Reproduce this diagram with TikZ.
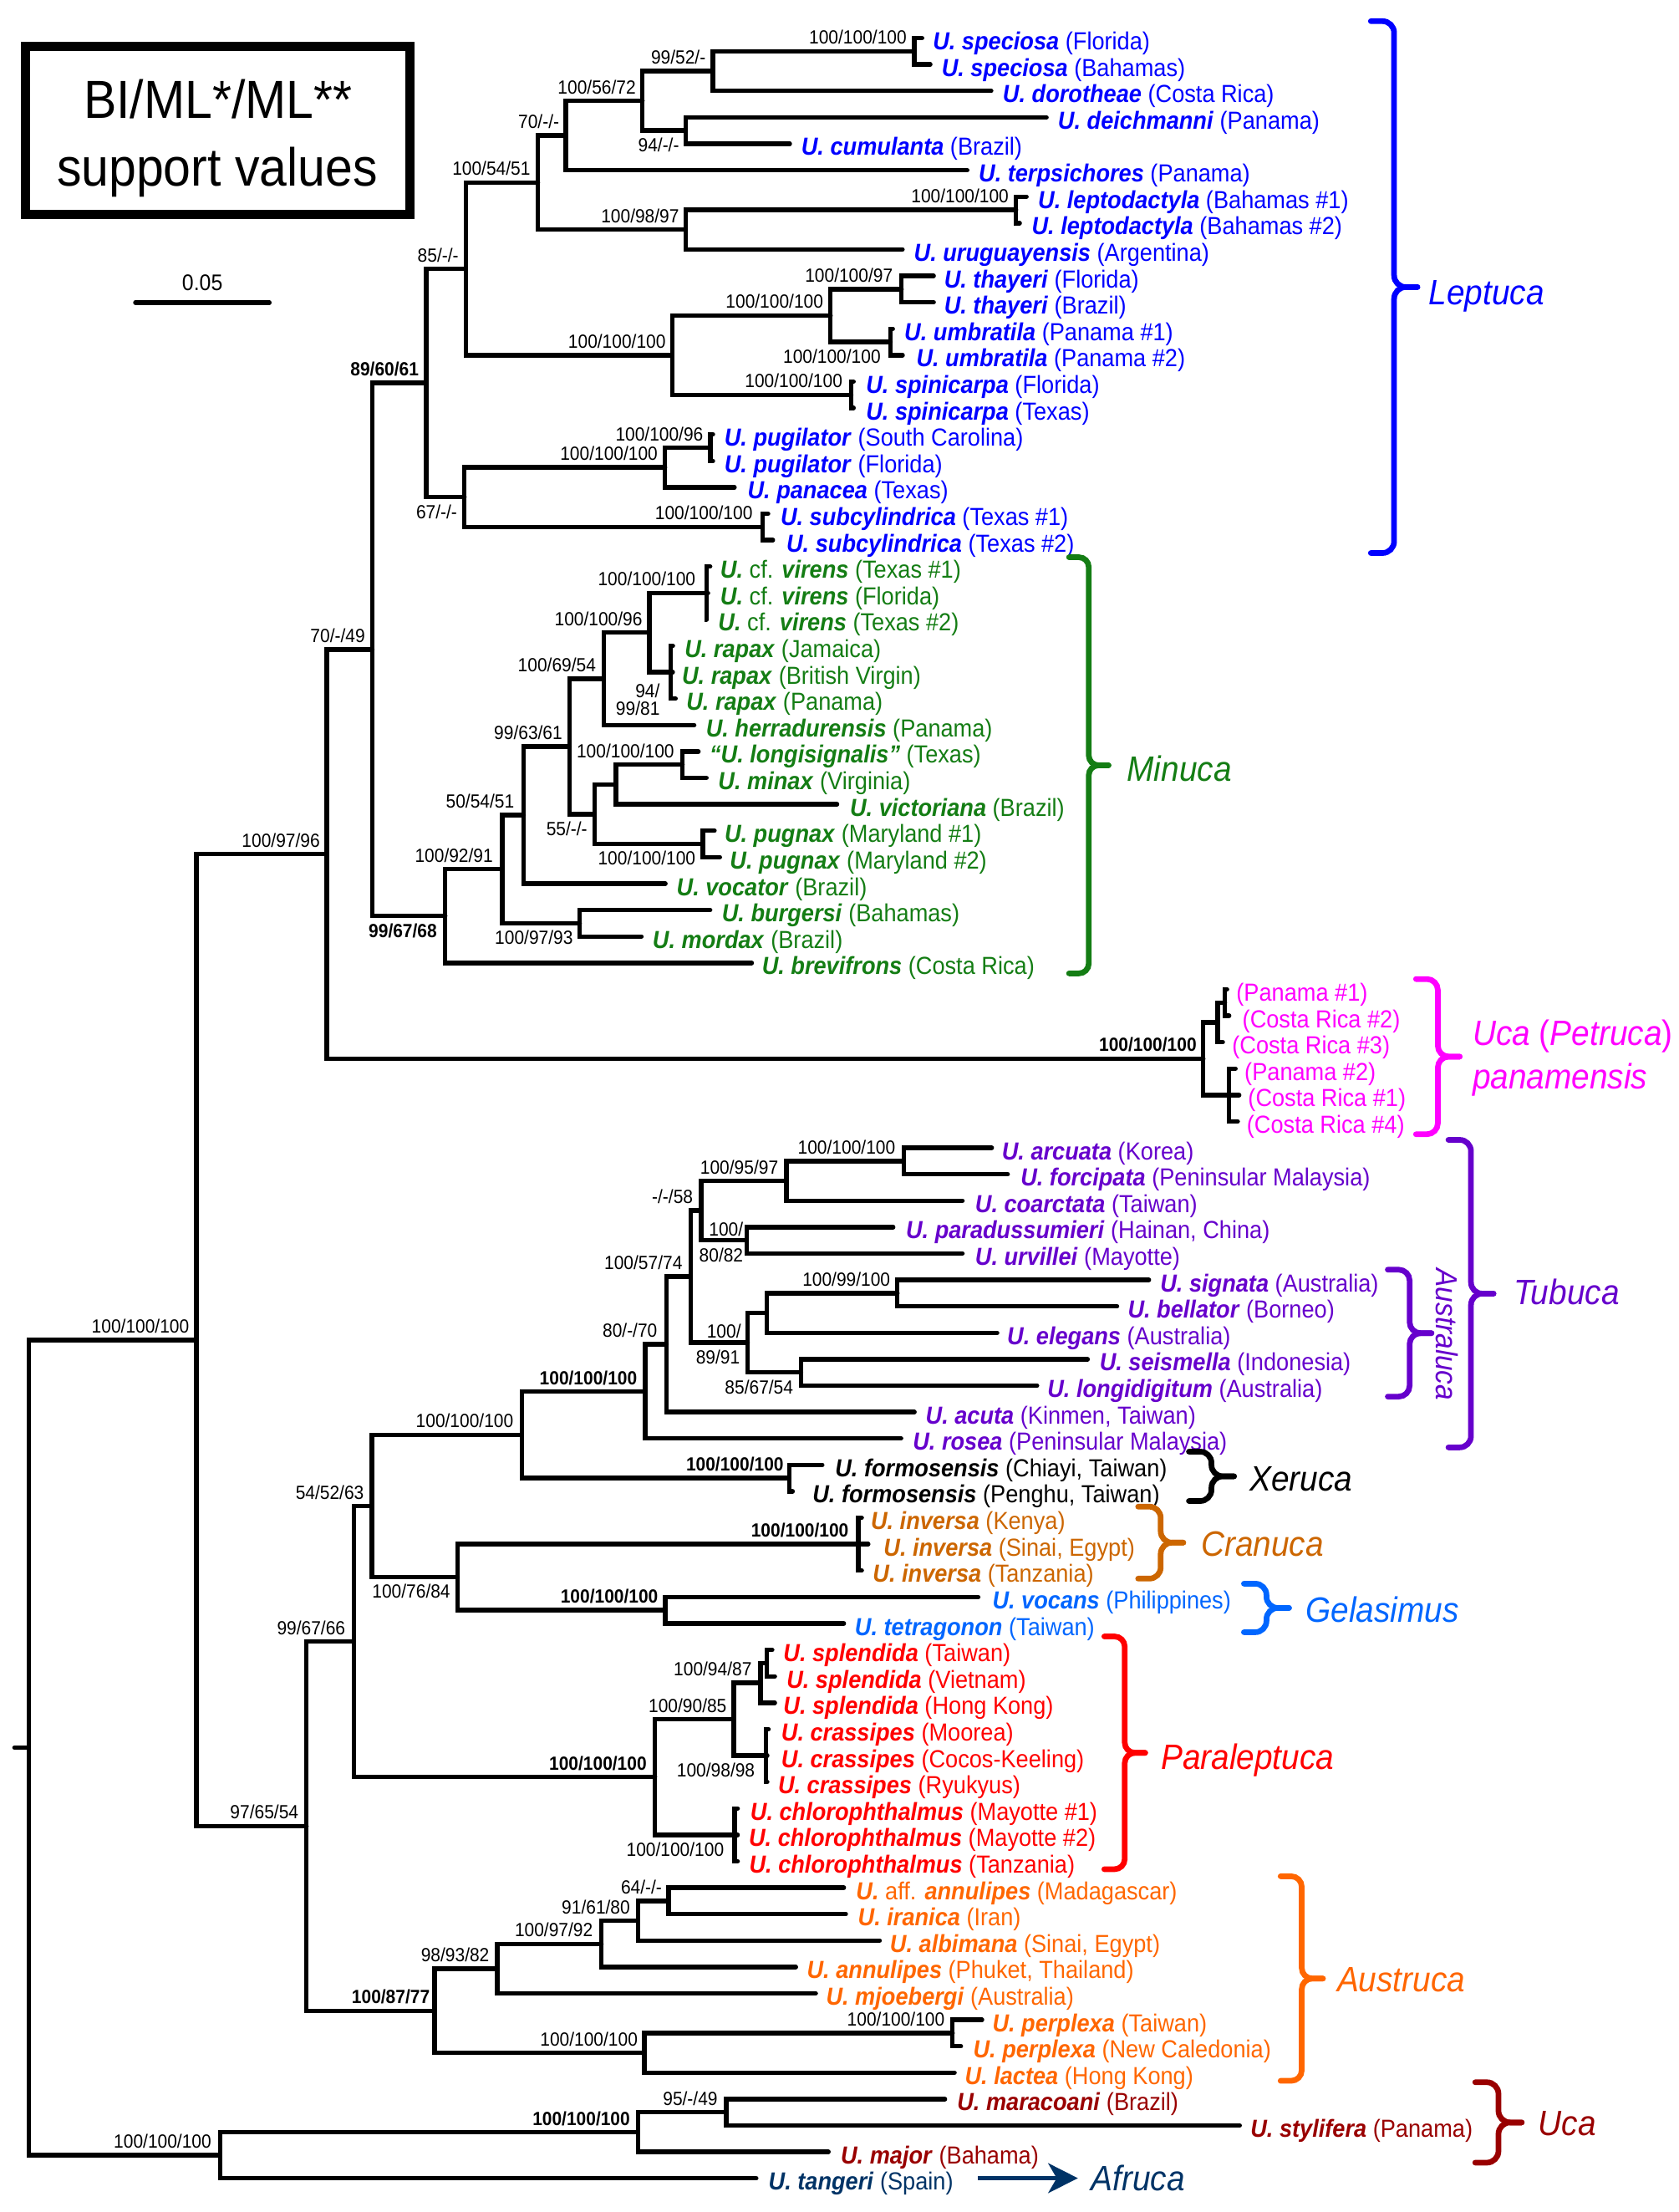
\documentclass[tikz,border=0pt]{standalone}
\usepackage{fontspec}
\setmainfont{Liberation Sans}[FakeStretch=0.92]
\usetikzlibrary{calc,arrows.meta}
\definecolor{lepc}{RGB}{0,0,255}
\definecolor{minc}{RGB}{20,125,20}
\definecolor{petc}{RGB}{255,0,255}
\definecolor{tubc}{RGB}{102,0,204}
\definecolor{crac}{RGB}{204,102,0}
\definecolor{gelc}{RGB}{0,102,255}
\definecolor{parc}{RGB}{255,0,0}
\definecolor{ausc}{RGB}{255,102,0}
\definecolor{ucac}{RGB}{153,0,0}
\definecolor{afrc}{RGB}{0,51,102}
\newcommand\spn[1]{\textbf{\textit{#1}}}
\newcommand\mytip[5]{\coordinate (t#1) at (#2,{ry(#1)});
  \node[tx,text=#4] (L#1) at (#3,{ry(#1)+8.3}) {#5};}
\newcommand\inode[4]{\path let \p1=($(#3)!0.5!(#4)$) in (#2pt,\y1) coordinate (#1);}
\newcommand\ed[2]{\foreach \kid in {#2}{\draw[br] (#1) |- (\kid);}}
\newcommand\supA[3]{\node[sup] (s#1) at ([xshift=-#2pt,yshift=5pt]#1) {#3};}
\newcommand\supB[3]{\node[sup] (s#1) at ([xshift=-#2pt,yshift=-15pt]#1) {#3};}
\newcommand\cbr[6]{%
  \pgfmathsetmacro\bm{(#4+#5)/2}\pgfmathsetmacro\bv{#3+#6/2}%
  \pgfmathsetmacro\bt{#3+#6}\pgfmathsetmacro\brr{#6/4}%
  \draw[brc,draw=#2,rounded corners=\brr pt] (#3,#4) -- (\bv,#4) -- (\bv,\bm) -- (\bt,\bm);
  \draw[brc,draw=#2,rounded corners=\brr pt] (#3,#5) -- (\bv,#5) -- (\bv,\bm) -- (\bt,\bm);
  \coordinate (#1) at (\bt,\bm);}
\begin{document}
\begin{tikzpicture}[x=1pt,y=-1pt,
  declare function={ry(\i)=27+(\i-1)*18.73;},
  br/.style={line width=3.2pt,line cap=round,black},
  brc/.style={line width=4pt,line cap=round},
  tx/.style={anchor=base west,inner sep=0pt,font=\fontsize{17.5}{18}\selectfont},
  sup/.style={anchor=base east,inner sep=0pt,font=\fontsize{13.5}{14}\selectfont},
  cl/.style={anchor=base west,inner sep=0pt,font=\fontsize{25}{26}\selectfont\itshape}]
\useasboundingbox (0,0) rectangle (1190,1568);
% legend and scale
\node[draw,line width=6.5pt,minimum width=272.7pt,minimum height=118.9pt,inner sep=0pt] (legend) at (154.4,92.3) {};
\node[anchor=base,inner sep=0pt,font=\fontsize{38}{40}\selectfont] (leg1) at (154.5,84) {BI/ML*/ML**};
\node[anchor=base,inner sep=0pt,font=\fontsize{38}{40}\selectfont] (leg2) at (154,132) {support values};
\coordinate (sb1) at (96,214.5); \coordinate (sb2) at (191,214.5);
\draw[line width=3.2pt,line cap=round] (sb1) -- (sb2);
\node[anchor=base,inner sep=0pt,font=\fontsize{16}{16}\selectfont] (sbl) at (143.5,206) {0.05};
% tips
\mytip{1}{653.8}{661.3}{lepc}{\spn{U. speciosa} (Florida)}
\mytip{2}{659.6}{667.5}{lepc}{\spn{U. speciosa} (Bahamas)}
\mytip{3}{702.8}{710.9}{lepc}{\spn{U. dorotheae} (Costa Rica)}
\mytip{4}{742}{750}{lepc}{\spn{U. deichmanni} (Panama)}
\mytip{5}{560}{568}{lepc}{\spn{U. cumulanta} (Brazil)}
\mytip{6}{685.8}{693.8}{lepc}{\spn{U. terpsichores} (Panama)}
\mytip{7}{727.8}{735.9}{lepc}{\spn{U. leptodactyla} (Bahamas \#1)}
\mytip{8}{723}{731.4}{lepc}{\spn{U. leptodactyla} (Bahamas \#2)}
\mytip{9}{639.9}{647.9}{lepc}{\spn{U. uruguayensis} (Argentina)}
\mytip{10}{662}{669.3}{lepc}{\spn{U. thayeri} (Florida)}
\mytip{11}{662}{669.3}{lepc}{\spn{U. thayeri} (Brazil)}
\mytip{12}{633}{641.1}{lepc}{\spn{U. umbratila} (Panama \#1)}
\mytip{13}{640}{649.6}{lepc}{\spn{U. umbratila} (Panama \#2)}
\mytip{14}{605.2}{613.9}{lepc}{\spn{U. spinicarpa} (Florida)}
\mytip{15}{605.2}{613.9}{lepc}{\spn{U. spinicarpa} (Texas)}
\mytip{16}{505.5}{513.5}{lepc}{\spn{U. pugilator} (South Carolina)}
\mytip{17}{505.5}{513.5}{lepc}{\spn{U. pugilator} (Florida)}
\mytip{18}{520.8}{529.9}{lepc}{\spn{U. panacea} (Texas)}
\mytip{19}{544.6}{553.3}{lepc}{\spn{U. subcylindrica} (Texas \#1)}
\mytip{20}{548}{557.5}{lepc}{\spn{U. subcylindrica} (Texas \#2)}
\mytip{21}{503.5}{510.6}{minc}{\spn{U.} cf. \spn{virens} (Texas \#1)}
\mytip{22}{502}{510.6}{minc}{\spn{U.} cf. \spn{virens} (Florida)}
\mytip{23}{501}{509.1}{minc}{\spn{U.} cf. \spn{virens} (Texas \#2)}
\mytip{24}{477.1}{485.3}{minc}{\spn{U. rapax} (Jamaica)}
\mytip{25}{477}{483.4}{minc}{\spn{U. rapax} (British Virgin)}
\mytip{26}{479}{486.5}{minc}{\spn{U. rapax} (Panama)}
\mytip{27}{492.2}{500.4}{minc}{\spn{U. herradurensis} (Panama)}
\mytip{28}{495.2}{503}{minc}{\spn{``U. longisignalis''} (Texas)}
\mytip{29}{500.9}{509.1}{minc}{\spn{U. minax} (Virginia)}
\mytip{30}{593.5}{602.5}{minc}{\spn{U. victoriana} (Brazil)}
\mytip{31}{506.6}{513.6}{minc}{\spn{U. pugnax} (Maryland \#1)}
\mytip{32}{510.4}{517.4}{minc}{\spn{U. pugnax} (Maryland \#2)}
\mytip{33}{471.8}{479.6}{minc}{\spn{U. vocator} (Brazil)}
\mytip{34}{503.5}{511.7}{minc}{\spn{U. burgersi} (Bahamas)}
\mytip{35}{454.8}{462.6}{minc}{\spn{U. mordax} (Brazil)}
\mytip{36}{533}{540.1}{minc}{\spn{U. brevifrons} (Costa Rica)}
\mytip{37}{870}{876.5}{petc}{(Panama \#1)}
\mytip{38}{871.5}{880.8}{petc}{(Costa Rica \#2)}
\mytip{39}{867}{873.5}{petc}{(Costa Rica \#3)}
\mytip{40}{876}{882.3}{petc}{(Panama \#2)}
\mytip{41}{878.6}{884.8}{petc}{(Costa Rica \#1)}
\mytip{42}{877.6}{883.9}{petc}{(Costa Rica \#4)}
\mytip{43}{703.2}{710.2}{tubc}{\spn{U. arcuata} (Korea)}
\mytip{44}{714.5}{723.5}{tubc}{\spn{U. forcipata} (Peninsular Malaysia)}
\mytip{45}{682.4}{691.3}{tubc}{\spn{U. coarctata} (Taiwan)}
\mytip{46}{633.3}{642.2}{tubc}{\spn{U. paradussumieri} (Hainan, China)}
\mytip{47}{682.4}{691.3}{tubc}{\spn{U. urvillei} (Mayotte)}
\mytip{48}{814.6}{822.5}{tubc}{\spn{U. signata} (Australia)}
\mytip{49}{792}{799.5}{tubc}{\spn{U. bellator} (Borneo)}
\mytip{50}{707}{714}{tubc}{\spn{U. elegans} (Australia)}
\mytip{51}{771.2}{779.5}{tubc}{\spn{U. seismella} (Indonesia)}
\mytip{52}{735.3}{742.5}{tubc}{\spn{U. longidigitum} (Australia)}
\mytip{53}{648.4}{656.2}{tubc}{\spn{U. acuta} (Kinmen, Taiwan)}
\mytip{54}{638.9}{647.1}{tubc}{\spn{U. rosea} (Peninsular Malaysia)}
\mytip{55}{583}{592}{black}{\spn{U. formosensis} (Chiayi, Taiwan)}
\mytip{56}{562}{576}{black}{\spn{U. formosensis} (Penghu, Taiwan)}
\mytip{57}{611}{617.3}{crac}{\spn{U. inversa} (Kenya)}
\mytip{58}{615.6}{626.4}{crac}{\spn{U. inversa} (Sinai, Egypt)}
\mytip{59}{611}{618.7}{crac}{\spn{U. inversa} (Tanzania)}
\mytip{60}{693.6}{703.5}{gelc}{\spn{U. vocans} (Philippines)}
\mytip{61}{598.3}{606}{gelc}{\spn{U. tetragonon} (Taiwan)}
\mytip{62}{547.5}{555.3}{parc}{\spn{U. splendida} (Taiwan)}
\mytip{63}{549.4}{557.6}{parc}{\spn{U. splendida} (Vietnam)}
\mytip{64}{549.4}{555.3}{parc}{\spn{U. splendida} (Hong Kong)}
\mytip{65}{544.9}{553.8}{parc}{\spn{U. crassipes} (Moorea)}
\mytip{66}{544}{553.8}{parc}{\spn{U. crassipes} (Cocos-Keeling)}
\mytip{67}{544}{551.5}{parc}{\spn{U. crassipes} (Ryukyus)}
\mytip{68}{523}{531.9}{parc}{\spn{U. chlorophthalmus} (Mayotte \#1)}
\mytip{69}{523}{530.8}{parc}{\spn{U. chlorophthalmus} (Mayotte \#2)}
\mytip{70}{523}{531.1}{parc}{\spn{U. chlorophthalmus} (Tanzania)}
\mytip{71}{598.3}{606.9}{ausc}{\spn{U.} aff. \spn{annulipes} (Madagascar)}
\mytip{72}{599.7}{608.2}{ausc}{\spn{U. iranica} (Iran)}
\mytip{73}{623.7}{630.9}{ausc}{\spn{U. albimana} (Sinai, Egypt)}
\mytip{74}{564.3}{572}{ausc}{\spn{U. annulipes} (Phuket, Thailand)}
\mytip{75}{578.4}{585.6}{ausc}{\spn{U. mjoebergi} (Australia)}
\mytip{76}{696.3}{703.5}{ausc}{\spn{U. perplexa} (Taiwan)}
\mytip{77}{681.3}{689.9}{ausc}{\spn{U. perplexa} (New Caledonia)}
\mytip{78}{676.8}{684}{ausc}{\spn{U. lactea} (Hong Kong)}
\mytip{79}{670}{678.5}{ucac}{\spn{U. maracoani} (Brazil)}
\mytip{80}{879}{886.5}{ucac}{\spn{U. stylifera} (Panama)}
\mytip{81}{587.4}{596}{ucac}{\spn{U. major} (Bahama)}
\mytip{82}{536.2}{544.8}{afrc}{\spn{U. tangeri} (Spain)}
% internal nodes
\inode{nspec}{648.4}{t1}{t2}
\inode{n505}{505.5}{nspec}{t3}
\inode{n486a}{486.1}{t4}{t5}
\inode{n455}{455.5}{n505}{n486a}
\inode{n401}{401.1}{n455}{t6}
\inode{nlepto}{720.4}{t7}{t8}
\inode{n486b}{486.1}{nlepto}{t9}
\inode{n381}{381.4}{n401}{n486b}
\inode{nthay}{639.2}{t10}{t11}
\inode{numb}{631.4}{t12}{t13}
\inode{n589}{588.9}{nthay}{numb}
\inode{nspin}{603.5}{t14}{t15}
\inode{n477}{476.6}{n589}{nspin}
\inode{n330}{330.3}{n381}{n477}
\inode{npug}{503.8}{t16}{t17}
\inode{n472}{471.5}{npug}{t18}
\inode{nsub}{540.6}{t19}{t20}
\inode{n329}{329.3}{n472}{nsub}
\inode{nlep}{302.1}{n330}{n329}
\inode{mvir}{500.9}{t21}{t23}
\inode{mrap}{475.6}{t24}{t26}
\inode{m460}{460.5}{mvir}{mrap}
\inode{m428}{428}{m460}{t27}
\inode{mlm}{483.9}{t28}{t29}
\inode{m437}{436.7}{mlm}{t30}
\inode{mpug}{498.3}{t31}{t32}
\inode{m421}{421.5}{m437}{mpug}
\inode{m404}{403.8}{m428}{m421}
\inode{m371}{371.3}{m404}{t33}
\inode{mbm}{411}{t34}{t35}
\inode{m356}{356.2}{m371}{mbm}
\inode{mmin}{315.7}{m356}{t36}
\inode{d264}{264}{nlep}{mmin}
\inode{pc}{868.5}{t37}{t38}
\inode{pu}{863.3}{pc}{t39}
\inode{pl}{871.5}{t40}{t42}
\inode{pet}{853.2}{pu}{pl}
\inode{b232}{231.8}{d264}{pet}
\inode{tac}{640.8}{t43}{t44}
\inode{t558}{557.7}{tac}{t45}
\inode{tpu}{529.3}{t46}{t47}
\inode{t497}{497.2}{t558}{tpu}
\inode{tsb}{636.3}{t48}{t49}
\inode{t544}{543.7}{tsb}{t50}
\inode{tsl}{567.9}{t51}{t52}
\inode{t530}{530.1}{t544}{tsl}
\inode{t490}{489.7}{t497}{t530}
\inode{t473}{472.6}{t490}{t53}
\inode{t458}{457.5}{t473}{t54}
\inode{xer}{559.6}{t55}{t56}
\inode{g370}{369.9}{t458}{xer}
\inode{cra}{608.7}{t57}{t59}
\inode{gel}{471.8}{t60}{t61}
\inode{h324}{324.4}{cra}{gel}
\inode{f264}{263.7}{g370}{h324}
\inode{pst}{543.7}{t62}{t63}
\inode{pspl}{539.2}{pst}{t64}
\inode{pcra}{543}{t65}{t67}
\inode{p520}{520.3}{pspl}{pcra}
\inode{pchl}{521}{t68}{t70}
\inode{p464}{464.4}{p520}{pchl}
\inode{e251}{250.9}{f264}{p464}
\inode{a474}{474.1}{t71}{t72}
\inode{a452}{452.3}{a474}{t73}
\inode{a426}{426.4}{a452}{t74}
\inode{a352}{352.5}{a426}{t75}
\inode{aperp}{675.4}{t76}{t77}
\inode{a457}{456.8}{aperp}{t78}
\inode{a308}{308.1}{a352}{a457}
\inode{c217}{217.3}{e251}{a308}
\inode{a139}{139.3}{b232}{c217}
\inode{u515}{514.9}{t79}{t80}
\inode{u452}{452.3}{u515}{t81}
\inode{i156}{156}{u452}{t82}
\inode{root}{20.3}{a139}{i156}
\path let \p1=(root) in (10.3pt,\y1) coordinate (rootL);
% branches
\ed{nspec}{t1,t2}
\ed{n505}{nspec,t3}
\ed{n486a}{t4,t5}
\ed{n455}{n505,n486a}
\ed{n401}{n455,t6}
\ed{nlepto}{t7,t8}
\ed{n486b}{nlepto,t9}
\ed{n381}{n401,n486b}
\ed{nthay}{t10,t11}
\ed{numb}{t12,t13}
\ed{n589}{nthay,numb}
\ed{nspin}{t14,t15}
\ed{n477}{n589,nspin}
\ed{n330}{n381,n477}
\ed{npug}{t16,t17}
\ed{n472}{npug,t18}
\ed{nsub}{t19,t20}
\ed{n329}{n472,nsub}
\ed{nlep}{n330,n329}
\ed{mvir}{t21,t22,t23}
\ed{mrap}{t24,t25,t26}
\ed{m460}{mvir,mrap}
\ed{m428}{m460,t27}
\ed{mlm}{t28,t29}
\ed{m437}{mlm,t30}
\ed{mpug}{t31,t32}
\ed{m421}{m437,mpug}
\ed{m404}{m428,m421}
\ed{m371}{m404,t33}
\ed{mbm}{t34,t35}
\ed{m356}{m371,mbm}
\ed{mmin}{m356,t36}
\ed{d264}{nlep,mmin}
\ed{pc}{t37,t38}
\ed{pu}{pc,t39}
\ed{pl}{t40,t41,t42}
\ed{pet}{pu,pl}
\ed{b232}{d264,pet}
\ed{tac}{t43,t44}
\ed{t558}{tac,t45}
\ed{tpu}{t46,t47}
\ed{t497}{t558,tpu}
\ed{tsb}{t48,t49}
\ed{t544}{tsb,t50}
\ed{tsl}{t51,t52}
\ed{t530}{t544,tsl}
\ed{t490}{t497,t530}
\ed{t473}{t490,t53}
\ed{t458}{t473,t54}
\ed{xer}{t55,t56}
\ed{g370}{t458,xer}
\ed{cra}{t57,t58,t59}
\ed{gel}{t60,t61}
\ed{h324}{cra,gel}
\ed{f264}{g370,h324}
\ed{pst}{t62,t63}
\ed{pspl}{pst,t64}
\ed{pcra}{t65,t66,t67}
\ed{p520}{pspl,pcra}
\ed{pchl}{t68,t69,t70}
\ed{p464}{p520,pchl}
\ed{e251}{f264,p464}
\ed{a474}{t71,t72}
\ed{a452}{a474,t73}
\ed{a426}{a452,t74}
\ed{a352}{a426,t75}
\ed{aperp}{t76,t77}
\ed{a457}{aperp,t78}
\ed{a308}{a352,a457}
\ed{c217}{e251,a308}
\ed{a139}{b232,c217}
\ed{u515}{t79,t80}
\ed{u452}{u515,t81}
\ed{i156}{u452,t82}
\ed{root}{a139,i156}
\draw[br] (rootL) -- (root);
% support values
\supA{nspec}{5.4}{100/100/100}
\supA{n505}{5}{99/52/-}
\supA{n455}{4.5}{100/56/72}
\supA{n401}{4.4}{70/-/-}
\supB{n486a}{4.4}{94/-/-}
\supA{n381}{5.2}{100/54/51}
\supA{n486b}{4.4}{100/98/97}
\supA{nlepto}{5}{100/100/100}
\supA{n330}{5}{85/-/-}
\supA{nthay}{6}{100/100/97}
\supA{n589}{5}{100/100/100}
\supB{numb}{6.8}{100/100/100}
\supA{n477}{4.4}{100/100/100}
\supA{nspin}{6}{100/100/100}
\supA{npug}{5}{100/100/96}
\supA{n472}{5}{100/100/100}
\supA{nsub}{6.8}{100/100/100}
\supB{n329}{5}{67/-/-}
\supA{nlep}{5}{\textbf{89/60/61}}
\supA{mvir}{7.6}{100/100/100}
\supA{m460}{4.9}{100/100/96}
\node[sup] (smrap1) at ([xshift=-7.6pt,yshift=-17.8pt]mrap) {94/};
\node[sup] (smrap2) at ([xshift=-7.6pt,yshift=-30.5pt]mrap) {99/81};
\supA{m428}{5.3}{100/69/54}
\supA{m404}{4.9}{99/63/61}
\supA{mlm}{5.7}{100/100/100}
\supB{m421}{4.9}{55/-/-}
\supB{mpug}{5}{100/100/100}
\supA{m371}{6.5}{50/54/51}
\supB{mbm}{4.6}{100/97/93}
\supA{m356}{6.5}{100/92/91}
\supB{mmin}{5.7}{\textbf{99/67/68}}
\supA{d264}{5}{70/-/49}
\supA{b232}{4.8}{100/97/96}
\supA{pet}{4.6}{\textbf{100/100/100}}
\supA{tac}{5.8}{100/100/100}
\supA{t558}{5.7}{100/95/97}
\node[sup] (stpu1) at ([xshift=-2.2pt,yshift=3.2pt]tpu) {100/};
\node[sup] (stpu2) at ([xshift=-2.2pt,yshift=-15pt]tpu) {80/82};
\supA{t497}{5.7}{-/-/58}
\supA{t490}{5.7}{100/57/74}
\supA{t473}{6.4}{80/-/70}
\supA{t458}{5.6}{\textbf{100/100/100}}
\supA{tsb}{4.9}{100/99/100}
\node[sup] (st5301) at ([xshift=-4.5pt,yshift=3.2pt]t530) {100/};
\node[sup] (st5302) at ([xshift=-5.3pt,yshift=-15pt]t530) {89/91};
\supB{tsl}{5.3}{85/67/54}
\supA{xer}{3.8}{\textbf{100/100/100}}
\supA{g370}{5.7}{100/100/100}
\supA{f264}{5.5}{54/52/63}
\supB{h324}{5}{100/76/84}
\supA{cra}{6.8}{\textbf{100/100/100}}
\supA{gel}{5}{\textbf{100/100/100}}
\supA{p464}{5.7}{\textbf{100/100/100}}
\supA{p520}{4.9}{100/90/85}
\supA{pspl}{6}{100/94/87}
\supB{pcra}{7.6}{100/98/98}
\supB{pchl}{7.5}{100/100/100}
\supA{e251}{5.9}{99/67/66}
\supA{c217}{5.5}{97/65/54}
\supA{a139}{5}{100/100/100}
\supA{a308}{3.2}{\textbf{100/87/77}}
\supA{a352}{5.4}{98/93/82}
\supA{a426}{5.9}{100/97/92}
\supA{a452}{5.4}{91/61/80}
\supA{a474}{4.6}{64/-/-}
\supA{aperp}{5.4}{100/100/100}
\supA{a457}{4.5}{100/100/100}
\supA{u452}{5.4}{\textbf{100/100/100}}
\supA{u515}{5.9}{95/-/49}
\supA{i156}{6}{100/100/100}
% braces
\cbr{bLep}{lepc}{972}{15}{392}{33}
\cbr{bMin}{minc}{758}{395}{690}{28}
\cbr{bPet}{petc}{1004}{694}{804}{31}
\cbr{bTub}{tubc}{1027}{808}{1026}{32}
\cbr{bAus}{tubc}{984}{900}{990}{31}
\cbr{bXer}{black}{843}{1029}{1064}{32}
\cbr{bCra}{crac}{807}{1068}{1119}{32}
\cbr{bGel}{gelc}{882}{1122.6}{1157}{32}
\cbr{bPar}{parc}{783}{1160}{1325}{29}
\cbr{bAst}{ausc}{908}{1330}{1475}{30}
\cbr{bUca}{ucac}{1046}{1476}{1533}{33}
% clade names
\node[cl,text=lepc] (cLep) at (1013,216) {Leptuca};
\node[cl,text=minc] (cMin) at (799,554) {Minuca};
\node[cl,text=petc] (cPet1) at (1044,741) {Uca \textup{(}Petruca\textup{)}};
\node[cl,text=petc] (cPet2) at (1044,772) {panamensis};
\node[cl,text=tubc] (cTub) at (1073,925) {Tubuca};
\node[rotate=-90,inner sep=0pt,font=\fontsize{21.5}{22}\selectfont\itshape,text=tubc] (cAus) at (1026,946) {Australuca};
\node[cl,text=black] (cXer) at (886,1057) {Xeruca};
\node[cl,text=crac] (cCra) at (851.5,1103) {Cranuca};
\node[cl,text=gelc] (cGel) at (925.6,1150) {Gelasimus};
\node[cl,text=parc] (cPar) at (823,1254) {Paraleptuca};
\node[cl,text=ausc] (cAst) at (948,1412) {Austruca};
\node[cl,text=ucac] (cUca) at (1090.5,1514) {Uca};
\node[cl,text=afrc] (cAfr) at (773.4,1553) {Afruca};
\coordinate (arA) at (693.6,1544); \coordinate (arB) at (764.3,1544);
\draw[afrc,line width=3.5pt,-{Stealth[length=21pt,width=21pt,inset=6pt]}] (arA) -- (arB);
\end{tikzpicture}
\end{document}
